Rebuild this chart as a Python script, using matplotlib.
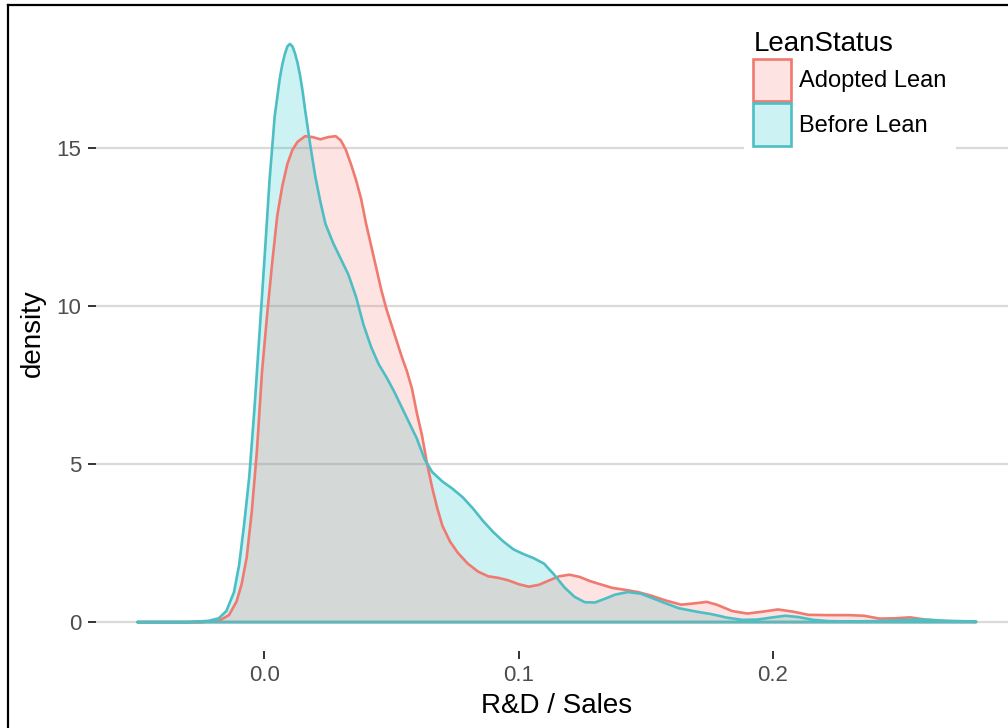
import matplotlib
matplotlib.use("Agg")
import matplotlib.pyplot as plt
from matplotlib.patches import Patch
from matplotlib.lines import Line2D

plt.rcParams['font.family'] = ['Liberation Sans', 'DejaVu Sans']

# density curves
before_x = [-0.050, -0.030, -0.022, -0.018, -0.015, -0.012, -0.010, -0.008, -0.006, -0.004,
            -0.002, 0.000, 0.002, 0.004, 0.006, 0.007, 0.008, 0.009, 0.010, 0.011,
            0.012, 0.013, 0.014, 0.015, 0.016, 0.018, 0.020, 0.022, 0.024, 0.027,
            0.030, 0.033, 0.036, 0.039, 0.042, 0.045, 0.048, 0.051, 0.054, 0.057,
            0.060, 0.063, 0.066, 0.070, 0.074, 0.078, 0.082, 0.086, 0.090, 0.094,
            0.098, 0.102, 0.106, 0.110, 0.114, 0.118, 0.122, 0.126, 0.130, 0.134,
            0.138, 0.143, 0.148, 0.152, 0.157, 0.163, 0.170, 0.176, 0.182, 0.188,
            0.194, 0.200, 0.205, 0.210, 0.216, 0.222, 0.230, 0.240, 0.250, 0.256,
            0.262, 0.268, 0.274, 0.280]
before_y = [0.0, 0.0, 0.04, 0.12, 0.35, 0.95, 1.8, 3.1, 4.6, 6.7,
            9.1, 11.5, 14.0, 16.0, 17.2, 17.65, 17.98, 18.22, 18.3, 18.22,
            18.0, 17.7, 17.3, 16.8, 16.2, 15.1, 14.1, 13.3, 12.6, 12.0,
            11.5, 11.0, 10.3, 9.4, 8.7, 8.15, 7.75, 7.3, 6.8, 6.3,
            5.8, 5.15, 4.75, 4.45, 4.22, 3.95, 3.6, 3.2, 2.85, 2.55,
            2.3, 2.15, 2.02, 1.85, 1.5, 1.1, 0.8, 0.63, 0.62, 0.74,
            0.87, 0.95, 0.9, 0.78, 0.62, 0.44, 0.33, 0.25, 0.14, 0.07,
            0.08, 0.15, 0.2, 0.16, 0.07, 0.03, 0.02, 0.03, 0.06, 0.08,
            0.07, 0.04, 0.03, 0.02]

adopted_x = [-0.050, -0.025, -0.018, -0.014, -0.011, -0.009, -0.007, -0.005, -0.003, -0.001,
             0.001, 0.003, 0.005, 0.007, 0.009, 0.011, 0.013, 0.016, 0.019, 0.022,
             0.025, 0.028, 0.030, 0.032, 0.034, 0.036, 0.038, 0.040, 0.042, 0.044,
             0.046, 0.048, 0.050, 0.052, 0.054, 0.056, 0.058, 0.060, 0.062, 0.064,
             0.066, 0.068, 0.070, 0.073, 0.076, 0.080, 0.084, 0.088, 0.092, 0.096,
             0.100, 0.104, 0.108, 0.112, 0.116, 0.120, 0.124, 0.128, 0.132, 0.137,
             0.142, 0.147, 0.152, 0.158, 0.164, 0.170, 0.174, 0.178, 0.184, 0.190,
             0.196, 0.202, 0.208, 0.214, 0.222, 0.230, 0.236, 0.242, 0.248, 0.254,
             0.260, 0.266, 0.272, 0.280]
adopted_y = [0.0, 0.0, 0.04, 0.22, 0.65, 1.2, 2.05, 3.5, 5.4, 7.9,
             9.7, 11.35, 12.85, 13.8, 14.5, 14.95, 15.2, 15.38, 15.35, 15.28,
             15.35, 15.38, 15.25, 14.95, 14.5, 14.0, 13.4, 12.6, 11.9, 11.2,
             10.5, 9.9, 9.4, 8.9, 8.4, 7.95, 7.4, 6.6, 5.9, 5.0,
             4.25, 3.6, 3.05, 2.55, 2.2, 1.85, 1.6, 1.45, 1.4, 1.32,
             1.2, 1.12, 1.18, 1.32, 1.45, 1.5, 1.43, 1.3, 1.2, 1.08,
             1.02, 0.95, 0.84, 0.68, 0.55, 0.6, 0.64, 0.55, 0.35, 0.27,
             0.33, 0.4, 0.33, 0.23, 0.22, 0.22, 0.2, 0.11, 0.12, 0.15,
             0.08, 0.04, 0.02, 0.01]

groups = ['Adopted Lean', 'Before Lean']
line_colors = ['#F07A6F', '#4DBEC4']
fill_colors = ['#F8766D', '#00BFC4']
x_ticks = [0.0, 0.1, 0.2]
y_ticks = [0, 5, 10, 15]

W, H = 1008, 728
fig = plt.figure(figsize=(W / 100, H / 100), dpi=100)
fig.patch.set_facecolor('white')

# panel in pixels (right side runs past the cropped edge)
left, right, top, bottom = 95.5, 1018, 15, 651
ax = fig.add_axes([left / W, 1 - bottom / H, (right - left) / W, (bottom - top) / H])

series = [(adopted_x, adopted_y), (before_x, before_y)]
polys = []
for xs, ys in series:
    polys.append((list(xs) + list(xs[::-1]), list(ys) + [0.0] * len(xs)))

# fills: teal underneath, red over it -> grey where they overlap
ax.fill(*polys[1], facecolor=fill_colors[1], alpha=0.2, edgecolor='none', zorder=2)
ax.fill(*polys[0], facecolor=fill_colors[0], alpha=0.2, edgecolor='none', zorder=2.1)
ax.fill(*polys[0], facecolor='none', edgecolor=line_colors[0], lw=1.9, zorder=3, joinstyle='round')
ax.fill(*polys[1], facecolor='none', edgecolor=line_colors[1], lw=1.9, zorder=3.1, joinstyle='round')

xmin = min(min(before_x), min(adopted_x))
xmax = max(max(before_x), max(adopted_x))
ymax = max(max(before_y), max(adopted_y))
ax.set_xlim(xmin - 0.05 * (xmax - xmin), xmax + 0.05 * (xmax - xmin))
ax.set_ylim(-0.05 * ymax, 1.05 * ymax)

ax.set_xticks(x_ticks)
ax.set_xticklabels(['%.1f' % v for v in x_ticks])
ax.set_yticks(y_ticks)
ax.yaxis.grid(True, color='#DADADA', lw=1.6, zorder=0)
ax.xaxis.grid(False)
ax.set_axisbelow(True)
for s in ax.spines.values():
    s.set_visible(False)
ax.tick_params(axis='both', length=6, width=1.4, color='#333333',
               labelsize=16, labelcolor='#4D4D4D', pad=4)
ax.set_xlabel('R&D / Sales', fontsize=20, labelpad=5)
ax.set_ylabel('density', fontsize=20, labelpad=8)

handles = []
for fc, lc in zip(fill_colors, line_colors):
    handles.append(Patch(facecolor=matplotlib.colors.to_rgba(fc, 0.2), edgecolor=lc, lw=1.9))
leg = fig.legend(handles, groups, title='LeanStatus', loc='upper left',
                 bbox_to_anchor=(732 / W, 1 - 10 / H), fontsize=17, title_fontsize=20,
                 frameon=True, facecolor='white', edgecolor='none', framealpha=1,
                 fancybox=False, handlelength=1.6, handleheight=2.4,
                 handletextpad=0.35, labelspacing=0.08, borderpad=0.4,
                 alignment='left')
leg._legend_box.sep = 1

# outer border of the (cropped) picture
fig.add_artist(Line2D([8 / W, 8 / W], [0, 1 - 5 / H], color='black', lw=1.6))
fig.add_artist(Line2D([8 / W, 1], [1 - 5 / H, 1 - 5 / H], color='black', lw=1.6))

fig.savefig('out.png', dpi=100)
